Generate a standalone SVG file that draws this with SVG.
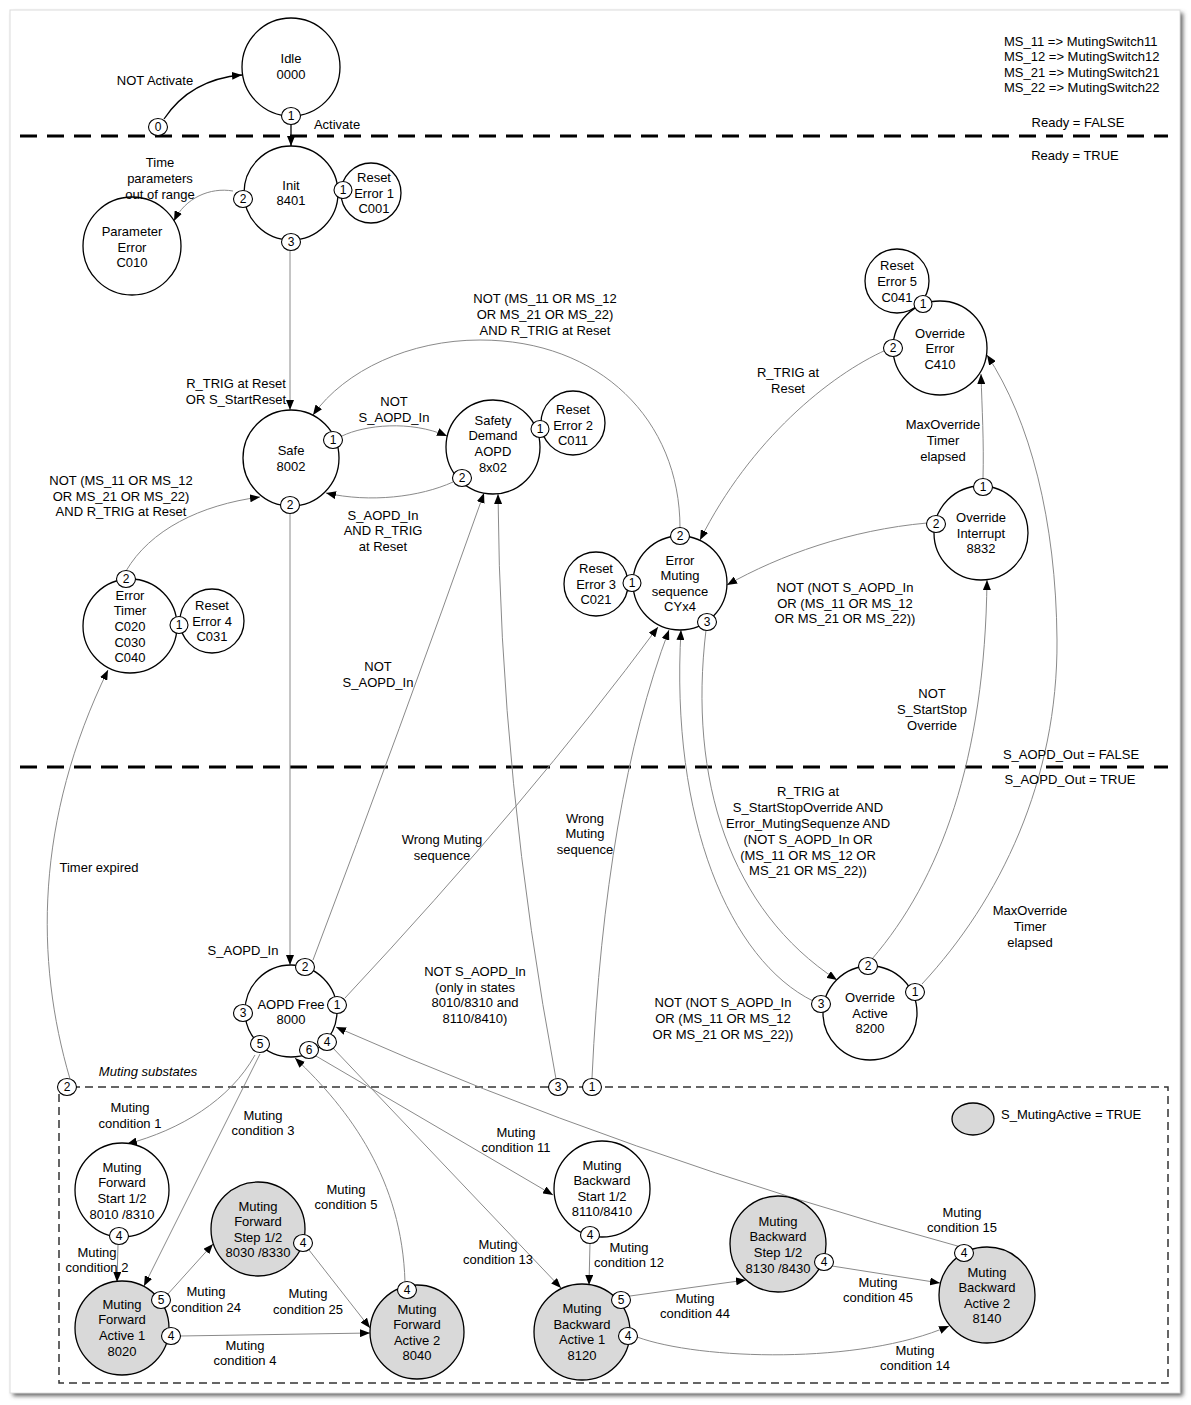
<svg xmlns="http://www.w3.org/2000/svg" width="1191" height="1405" viewBox="0 0 1191 1405">
<defs>
<style>
text{font-family:"Liberation Sans",Arial,sans-serif;font-size:13px;fill:#000}
.t{text-anchor:middle}
.l{text-anchor:start}
.n{fill:#fff;stroke:#000;stroke-width:1.3}
.g{fill:#d9d9d9;stroke:#000;stroke-width:1.3}
.p ellipse{fill:#fff;stroke:#000;stroke-width:1.1}
.p text{font-size:12px;text-anchor:middle}
.c{fill:none;stroke:#8a8a8a;stroke-width:1;marker-end:url(#a)}
.cn{fill:none;stroke:#8a8a8a;stroke-width:1}
.k{fill:none;stroke:#000;stroke-width:1.3;marker-end:url(#a)}
.sep{stroke:#000;stroke-width:3;stroke-dasharray:17 10}
</style>
<marker id="a" viewBox="0 0 10 8" refX="10" refY="4" markerWidth="10" markerHeight="8" orient="auto" markerUnits="userSpaceOnUse"><path d="M0,0 L10,4 L0,8 z" fill="#000"/></marker>
<filter id="sh" x="-5%" y="-5%" width="110%" height="110%"><feGaussianBlur stdDeviation="2"/></filter>
</defs>
<rect x="0" y="0" width="1191" height="1405" fill="#fff"/>
<rect x="13" y="13" width="1170" height="1383" fill="#666" filter="url(#sh)"/>
<rect x="10" y="10" width="1170" height="1383" fill="#fff" stroke="#dcdcdc" stroke-width="1"/>

<g id="separators">
<line class="sep" x1="20" y1="136" x2="1168" y2="136"/>
<line class="sep" x1="20" y1="767" x2="1168" y2="767"/>
<rect x="59" y="1087" width="1109" height="296" fill="none" stroke="#333" stroke-width="1.5" stroke-dasharray="8 5"/>
</g>

<g id="connectors">
<path class="k" d="M164,119 C180,95 205,78 242,75"/>
<path class="k" d="M291,125 L291,146"/>
<path class="c" d="M233,191 C210,187 185,198 174,221"/>
<path class="c" d="M290,251 L290,410"/>
<path class="c" d="M342,436 C365,425 410,420 447,436"/>
<path class="c" d="M453,482 C420,497 370,503 326,493"/>
<path class="c" d="M680,528 C680,420 600,340 480,340 C410,340 345,370 313,415"/>
<path class="c" d="M886,350 C830,375 750,440 700,540"/>
<path class="c" d="M983,479 C984,440 982,410 981,374"/>
<path class="c" d="M927,523 C850,530 780,555 727,585"/>
<path class="c" d="M126,571 C150,530 200,505 260,497"/>
<path class="c" d="M70,1079 C35,960 35,820 108,670"/>
<path class="c" d="M290,513 L290,965"/>
<path class="c" d="M313,960 Q400,730 484,493"/>
<path class="c" d="M556,1079 Q500,780 498,494"/>
<path class="c" d="M345,998 Q530,800 658,627"/>
<path class="c" d="M592,1078 Q605,800 669,630"/>
<path class="c" d="M813,1001 C730,960 670,820 681,630"/>
<path class="c" d="M706,630 C688,780 730,910 837,980"/>
<path class="c" d="M872,959 C940,880 985,760 987,580"/>
<path class="c" d="M922,984 C1000,900 1058,780 1057,640 C1056,520 1030,420 987,355"/>
<path class="c" d="M255,1055 C230,1100 180,1130 127,1144"/>
<path class="c" d="M260,1054 L144,1286"/>
<path class="c" d="M118,1245 L117,1282"/>
<path class="c" d="M167,1295 L213,1244"/>
<path class="c" d="M309,1250 L370,1328"/>
<path class="c" d="M180,1336 L370,1333"/>
<path class="c" d="M405,1282 C402,1180 350,1110 295,1058"/>
<path class="c" d="M316,1056 L553,1195"/>
<path class="c" d="M332,1047 L561,1288"/>
<path class="c" d="M590,1243 L589,1285"/>
<path class="c" d="M630,1296 L746,1280"/>
<path class="c" d="M832,1266 L940,1283"/>
<path class="c" d="M637,1337 C700,1360 860,1365 949,1326"/>
<path class="c" d="M961,1247 Q625,1155 336,1027"/>
</g>

<g id="idle"><circle class="n" cx="291" cy="67" r="49"/><text class="t" x="291" y="62.5">Idle</text><text class="t" x="291" y="78.5">0000</text>
<g class="p"><ellipse cx="291" cy="116" rx="9.5" ry="8.5"/><text x="291" y="120">1</text></g></g>
<g id="port0" class="p"><ellipse cx="158" cy="127" rx="9.5" ry="8.5"/><text x="158" y="131">0</text></g>

<g id="init"><circle class="n" cx="291" cy="193" r="47"/><text class="t" x="291" y="189.5">Init</text><text class="t" x="291" y="204.5">8401</text></g>
<g id="reset1"><circle class="n" cx="371" cy="193" r="30"/><text class="t" x="374" y="181.5">Reset</text><text class="t" x="374" y="197.5">Error 1</text><text class="t" x="374" y="212.5">C001</text></g>
<g id="init-ports"><g class="p"><ellipse cx="243" cy="199" rx="9.5" ry="8.5"/><text x="243" y="203">2</text></g><g class="p"><ellipse cx="343" cy="190" rx="9" ry="8.5"/><text x="343" y="194">1</text></g><g class="p"><ellipse cx="291" cy="242" rx="9.5" ry="8.5"/><text x="291" y="246">3</text></g></g>

<g id="paramerror"><circle class="n" cx="132" cy="246" r="49"/><text class="t" x="132" y="235.5">Parameter</text><text class="t" x="132" y="251.5">Error</text><text class="t" x="132" y="266.5">C010</text></g>

<g id="safe"><circle class="n" cx="291" cy="458" r="48"/><text class="t" x="291" y="454.5">Safe</text><text class="t" x="291" y="470.5">8002</text>
<g class="p"><ellipse cx="333" cy="440" rx="9.5" ry="8.5"/><text x="333" y="444">1</text></g><g class="p"><ellipse cx="290" cy="505" rx="9.5" ry="8.5"/><text x="290" y="509">2</text></g></g>

<g id="safetydemand"><circle class="n" cx="493" cy="447" r="47"/><text class="t" x="493" y="424.5">Safety</text><text class="t" x="493" y="439.5">Demand</text><text class="t" x="493" y="455.5">AOPD</text><text class="t" x="493" y="471.5">8x02</text></g>
<g id="reset2"><circle class="n" cx="573" cy="423" r="32"/><text class="t" x="573" y="413.5">Reset</text><text class="t" x="573" y="429.5">Error 2</text><text class="t" x="573" y="444.5">C011</text></g>
<g id="sd-ports"><g class="p"><ellipse cx="540" cy="429" rx="9" ry="8.5"/><text x="540" y="433">1</text></g><g class="p"><ellipse cx="462" cy="478" rx="9.5" ry="8.5"/><text x="462" y="482">2</text></g></g>

<g id="errormuting"><circle class="n" cx="680" cy="583" r="47"/><text class="t" x="680" y="564.5">Error</text><text class="t" x="680" y="579.5">Muting</text><text class="t" x="680" y="595.5">sequence</text><text class="t" x="680" y="610.5">CYx4</text></g>
<g id="reset3"><circle class="n" cx="596" cy="584" r="32"/><text class="t" x="596" y="572.5">Reset</text><text class="t" x="596" y="588.5">Error 3</text><text class="t" x="596" y="603.5">C021</text></g>
<g id="em-ports"><g class="p"><ellipse cx="680" cy="536" rx="9.5" ry="8.5"/><text x="680" y="540">2</text></g><g class="p"><ellipse cx="632" cy="583" rx="9" ry="8.5"/><text x="632" y="587">1</text></g><g class="p"><ellipse cx="707" cy="622" rx="9.5" ry="8.5"/><text x="707" y="626">3</text></g></g>

<g id="reset5"><circle class="n" cx="897" cy="281" r="32"/><text class="t" x="897" y="269.5">Reset</text><text class="t" x="897" y="285.5">Error 5</text><text class="t" x="897" y="301.5">C041</text></g>
<g id="overrideerror"><circle class="n" cx="940" cy="348" r="47"/><text class="t" x="940" y="337.5">Override</text><text class="t" x="940" y="352.5">Error</text><text class="t" x="940" y="368.5">C410</text>
<g class="p"><ellipse cx="923" cy="304" rx="9" ry="8.5"/><text x="923" y="308">1</text></g><g class="p"><ellipse cx="893" cy="348" rx="9.5" ry="8.5"/><text x="893" y="352">2</text></g></g>

<g id="overrideinterrupt"><circle class="n" cx="981" cy="533" r="47"/><text class="t" x="981" y="521.5">Override</text><text class="t" x="981" y="537.5">Interrupt</text><text class="t" x="981" y="552.5">8832</text>
<g class="p"><ellipse cx="983" cy="487" rx="9.5" ry="8.5"/><text x="983" y="491">1</text></g><g class="p"><ellipse cx="936" cy="524" rx="9.5" ry="8.5"/><text x="936" y="528">2</text></g></g>

<g id="errortimer"><circle class="n" cx="130" cy="626" r="47"/><text class="t" x="130" y="599.5">Error</text><text class="t" x="130" y="614.5">Timer</text><text class="t" x="130" y="630.5">C020</text><text class="t" x="130" y="646.5">C030</text><text class="t" x="130" y="661.5">C040</text></g>
<g id="reset4"><circle class="n" cx="212" cy="621" r="32"/><text class="t" x="212" y="609.5">Reset</text><text class="t" x="212" y="625.5">Error 4</text><text class="t" x="212" y="640.5">C031</text></g>
<g id="et-ports"><g class="p"><ellipse cx="126" cy="579" rx="9.5" ry="8.5"/><text x="126" y="583">2</text></g><g class="p"><ellipse cx="179" cy="625" rx="9" ry="8.5"/><text x="179" y="629">1</text></g></g>

<g id="aopdfree"><circle class="n" cx="291" cy="1011" r="46"/><text class="t" x="291" y="1008.5">AOPD Free</text><text class="t" x="291" y="1023.5">8000</text>
<g class="p"><ellipse cx="305" cy="967" rx="9.5" ry="8.5"/><text x="305" y="971">2</text></g>
<g class="p"><ellipse cx="337" cy="1005" rx="9.5" ry="8.5"/><text x="337" y="1009">1</text></g>
<g class="p"><ellipse cx="243" cy="1013" rx="9.5" ry="8.5"/><text x="243" y="1017">3</text></g>
<g class="p"><ellipse cx="260" cy="1044" rx="9.5" ry="8.5"/><text x="260" y="1048">5</text></g>
<g class="p"><ellipse cx="309" cy="1050" rx="9.5" ry="8.5"/><text x="309" y="1054">6</text></g>
<g class="p"><ellipse cx="327" cy="1042" rx="9.5" ry="8.5"/><text x="327" y="1046">4</text></g></g>

<g id="overrideactive"><circle class="n" cx="870" cy="1013" r="47"/><text class="t" x="870" y="1001.5">Override</text><text class="t" x="870" y="1017.5">Active</text><text class="t" x="870" y="1032.5">8200</text>
<g class="p"><ellipse cx="868" cy="966" rx="9.5" ry="8.5"/><text x="868" y="970">2</text></g>
<g class="p"><ellipse cx="915" cy="992" rx="9.5" ry="8.5"/><text x="915" y="996">1</text></g>
<g class="p"><ellipse cx="821" cy="1004" rx="9.5" ry="8.5"/><text x="821" y="1008">3</text></g></g>

<g id="substate-ports">
<g class="p"><ellipse cx="67" cy="1087" rx="9.5" ry="8.5"/><text x="67" y="1091">2</text></g>
<g class="p"><ellipse cx="558" cy="1087" rx="9.5" ry="8.5"/><text x="558" y="1091">3</text></g>
<g class="p"><ellipse cx="592" cy="1087" rx="9.5" ry="8.5"/><text x="592" y="1091">1</text></g>
</g>

<g id="legend"><ellipse class="g" cx="973" cy="1119" rx="21" ry="16"/><text class="l" x="1001" y="1118.5">S_MutingActive = TRUE</text></g>

<g id="fwdstart"><circle class="n" cx="122" cy="1190" r="47"/><text class="t" x="122" y="1171.5">Muting</text><text class="t" x="122" y="1186.5">Forward</text><text class="t" x="122" y="1202.5">Start 1/2</text><text class="t" x="122" y="1218.5">8010 /8310</text>
<g class="p"><ellipse cx="119" cy="1236" rx="9.5" ry="8.5"/><text x="119" y="1240">4</text></g></g>
<g id="fwdstep"><circle class="g" cx="258" cy="1229" r="47"/><text class="t" x="258" y="1210.5">Muting</text><text class="t" x="258" y="1225.5">Forward</text><text class="t" x="258" y="1241.5">Step 1/2</text><text class="t" x="258" y="1256.5">8030 /8330</text>
<g class="p"><ellipse cx="303" cy="1243" rx="9.5" ry="8.5"/><text x="303" y="1247">4</text></g></g>
<g id="fwdactive1"><circle class="g" cx="122" cy="1328" r="47"/><text class="t" x="122" y="1308.5">Muting</text><text class="t" x="122" y="1323.5">Forward</text><text class="t" x="122" y="1339.5">Active 1</text><text class="t" x="122" y="1355.5">8020</text>
<g class="p"><ellipse cx="161" cy="1300" rx="9.5" ry="8.5"/><text x="161" y="1304">5</text></g>
<g class="p"><ellipse cx="171" cy="1336" rx="9.5" ry="8.5"/><text x="171" y="1340">4</text></g></g>
<g id="fwdactive2"><circle class="g" cx="417" cy="1332" r="47"/><text class="t" x="417" y="1313.5">Muting</text><text class="t" x="417" y="1328.5">Forward</text><text class="t" x="417" y="1344.5">Active 2</text><text class="t" x="417" y="1359.5">8040</text>
<g class="p"><ellipse cx="407" cy="1290" rx="9.5" ry="8.5"/><text x="407" y="1294">4</text></g></g>

<g id="bwdstart"><circle class="n" cx="602" cy="1189" r="48"/><text class="t" x="602" y="1169.5">Muting</text><text class="t" x="602" y="1184.5">Backward</text><text class="t" x="602" y="1200.5">Start 1/2</text><text class="t" x="602" y="1215.5">8110/8410</text>
<g class="p"><ellipse cx="590" cy="1235" rx="9.5" ry="8.5"/><text x="590" y="1239">4</text></g></g>
<g id="bwdactive1"><circle class="g" cx="582" cy="1332" r="48"/><text class="t" x="582" y="1312.5">Muting</text><text class="t" x="582" y="1328.5">Backward</text><text class="t" x="582" y="1343.5">Active 1</text><text class="t" x="582" y="1359.5">8120</text>
<g class="p"><ellipse cx="621" cy="1300" rx="9.5" ry="8.5"/><text x="621" y="1304">5</text></g>
<g class="p"><ellipse cx="628" cy="1336" rx="9.5" ry="8.5"/><text x="628" y="1340">4</text></g></g>
<g id="bwdstep"><circle class="g" cx="778" cy="1244" r="48"/><text class="t" x="778" y="1225.5">Muting</text><text class="t" x="778" y="1240.5">Backward</text><text class="t" x="778" y="1256.5">Step 1/2</text><text class="t" x="778" y="1272.5">8130 /8430</text>
<g class="p"><ellipse cx="824" cy="1262" rx="9.5" ry="8.5"/><text x="824" y="1266">4</text></g></g>
<g id="bwdactive2"><circle class="g" cx="987" cy="1295" r="48"/><text class="t" x="987" y="1276.5">Muting</text><text class="t" x="987" y="1291.5">Backward</text><text class="t" x="987" y="1307.5">Active 2</text><text class="t" x="987" y="1322.5">8140</text>
<g class="p"><ellipse cx="964" cy="1253" rx="9.5" ry="8.5"/><text x="964" y="1257">4</text></g></g>

<g id="labels">
<text class="l" x="1004" y="45.5">MS_11 =&gt; MutingSwitch11</text>
<text class="l" x="1004" y="60.5">MS_12 =&gt; MutingSwitch12</text>
<text class="l" x="1004" y="76.5">MS_21 =&gt; MutingSwitch21</text>
<text class="l" x="1004" y="92">MS_22 =&gt; MutingSwitch22</text>
<text class="t" x="1078" y="126.5">Ready = FALSE</text>
<text class="t" x="1075" y="159.5">Ready = TRUE</text>
<text class="t" x="1071" y="758.5">S_AOPD_Out = FALSE</text>
<text class="t" x="1070" y="783.5">S_AOPD_Out = TRUE</text>
<text class="t" x="155" y="84.5">NOT Activate</text>
<text class="t" x="337" y="128.5">Activate</text>
<text class="t" x="160" y="166.5">Time</text><text class="t" x="160" y="182.5">parameters</text><text class="t" x="160" y="198.5">out of range</text>
<text class="t" x="545" y="302.5">NOT (MS_11 OR MS_12</text><text class="t" x="545" y="318.5">OR MS_21 OR MS_22)</text><text class="t" x="545" y="334.5">AND R_TRIG at Reset</text>
<text class="t" x="236" y="387.5">R_TRIG at Reset</text><text class="t" x="236" y="403.5">OR S_StartReset</text>
<text class="t" x="394" y="405.5">NOT</text><text class="t" x="394" y="421.5">S_AOPD_In</text>
<text class="t" x="383" y="519.5">S_AOPD_In</text><text class="t" x="383" y="534.5">AND R_TRIG</text><text class="t" x="383" y="550.5">at Reset</text>
<text class="t" x="788" y="376.5">R_TRIG at</text><text class="t" x="788" y="392.5">Reset</text>
<text class="t" x="943" y="428.5">MaxOverride</text><text class="t" x="943" y="444.5">Timer</text><text class="t" x="943" y="460.5">elapsed</text>
<text class="t" x="121" y="484.5">NOT (MS_11 OR MS_12</text><text class="t" x="121" y="500.5">OR MS_21 OR MS_22)</text><text class="t" x="121" y="515.5">AND R_TRIG at Reset</text>
<text class="t" x="845" y="591.5">NOT (NOT S_AOPD_In</text><text class="t" x="845" y="607.5">OR (MS_11 OR MS_12</text><text class="t" x="845" y="622.5">OR MS_21 OR MS_22))</text>
<text class="t" x="378" y="670.5">NOT</text><text class="t" x="378" y="686.5">S_AOPD_In</text>
<text class="t" x="932" y="697.5">NOT</text><text class="t" x="932" y="713.5">S_StartStop</text><text class="t" x="932" y="729.5">Override</text>
<text class="t" x="442" y="843.5">Wrong Muting</text><text class="t" x="442" y="859.5">sequence</text>
<text class="t" x="585" y="822.5">Wrong</text><text class="t" x="585" y="837.5">Muting</text><text class="t" x="585" y="853.5">sequence</text>
<text class="t" x="808" y="795.5">R_TRIG at</text><text class="t" x="808" y="811.5">S_StartStopOverride AND</text><text class="t" x="808" y="827.5">Error_MutingSequenze AND</text><text class="t" x="808" y="843.5">(NOT S_AOPD_In OR</text><text class="t" x="808" y="859.5">(MS_11 OR MS_12 OR</text><text class="t" x="808" y="874.5">MS_21 OR MS_22))</text>
<text class="t" x="99" y="871.5">Timer expired</text>
<text class="t" x="1030" y="914.5">MaxOverride</text><text class="t" x="1030" y="930.5">Timer</text><text class="t" x="1030" y="946.5">elapsed</text>
<text class="t" x="243" y="954.5">S_AOPD_In</text>
<text class="t" x="475" y="975.5">NOT S_AOPD_In</text><text class="t" x="475" y="991.5">(only in states</text><text class="t" x="475" y="1006.5">8010/8310 and</text><text class="t" x="475" y="1022.5">8110/8410)</text>
<text class="t" x="723" y="1006.5">NOT (NOT S_AOPD_In</text><text class="t" x="723" y="1022.5">OR (MS_11 OR MS_12</text><text class="t" x="723" y="1038.5">OR MS_21 OR MS_22))</text>
<text class="t" x="148" y="1075.5" font-style="italic">Muting substates</text>
<text class="t" x="130" y="1111.5">Muting</text><text class="t" x="130" y="1127.5">condition 1</text>
<text class="t" x="263" y="1119.5">Muting</text><text class="t" x="263" y="1134.5">condition 3</text>
<text class="t" x="97" y="1256.5">Muting</text><text class="t" x="97" y="1271.5">condition 2</text>
<text class="t" x="346" y="1193.5">Muting</text><text class="t" x="346" y="1208.5">condition 5</text>
<text class="t" x="206" y="1295.5">Muting</text><text class="t" x="206" y="1311.5">condition 24</text>
<text class="t" x="308" y="1297.5">Muting</text><text class="t" x="308" y="1313.5">condition 25</text>
<text class="t" x="245" y="1350">Muting</text><text class="t" x="245" y="1365">condition 4</text>
<text class="t" x="516" y="1136.5">Muting</text><text class="t" x="516" y="1152">condition 11</text>
<text class="t" x="498" y="1248.5">Muting</text><text class="t" x="498" y="1264">condition 13</text>
<text class="t" x="629" y="1251.5">Muting</text><text class="t" x="629" y="1267">condition 12</text>
<text class="t" x="695" y="1302.5">Muting</text><text class="t" x="695" y="1318">condition 44</text>
<text class="t" x="878" y="1286.5">Muting</text><text class="t" x="878" y="1302">condition 45</text>
<text class="t" x="915" y="1355">Muting</text><text class="t" x="915" y="1370">condition 14</text>
<text class="t" x="962" y="1216.5">Muting</text><text class="t" x="962" y="1232">condition 15</text>
</g>
</svg>
